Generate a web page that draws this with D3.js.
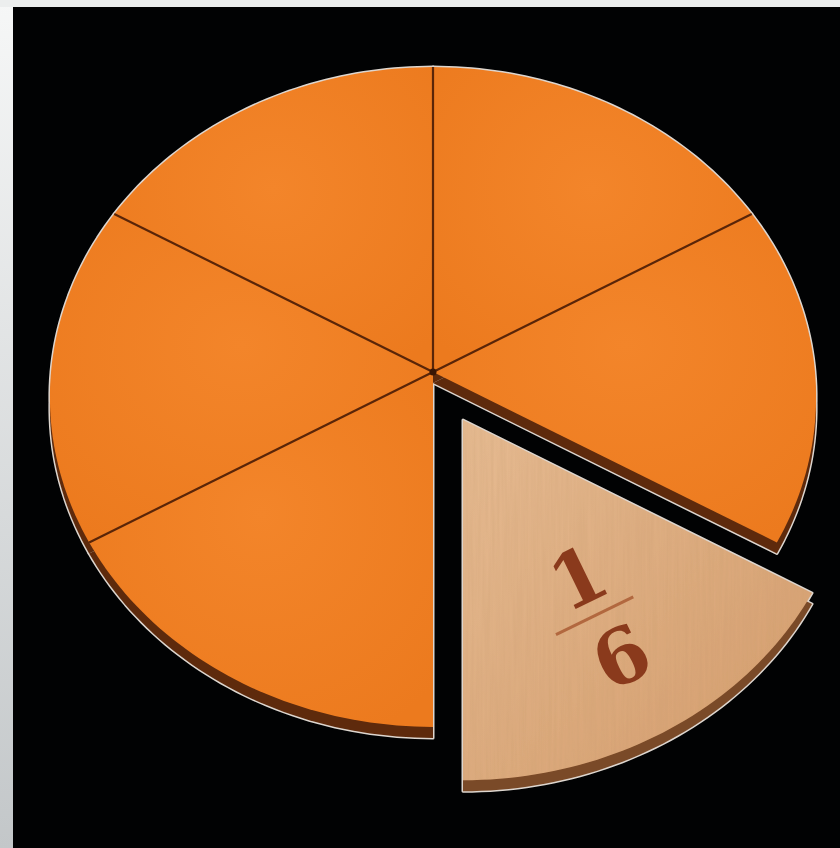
<!DOCTYPE html>
<html>
<head>
<meta charset="utf-8">
<script src="https://cdn.jsdelivr.net/npm/d3@7"></script>
<style>
  html, body { margin: 0; padding: 0; background: #000; }
  svg { display: block; }
</style>
</head>
<body>
<script>
// six equal pieces, one of them pulled out (the wooden 1/6)
const slices = [1, 1, 1, 1, 1, 1];
const pulledOut = 2;
const numerator = "1";
const denominator = "6";

const W = 840, H = 848;

const svg = d3.select("body").append("svg")
    .attr("width", W).attr("height", H);

const defs = svg.append("defs");

// grey frame left and top
const frameGrad = defs.append("linearGradient").attr("id", "frame")
    .attr("x1", 0).attr("y1", 0).attr("x2", 0).attr("y2", 1);
frameGrad.append("stop").attr("offset", 0).attr("stop-color", "#f6f7f7");
frameGrad.append("stop").attr("offset", 1).attr("stop-color", "#c3c7c9");

const orangeGrad = defs.append("radialGradient").attr("id", "orange")
    .attr("cx", "50%").attr("cy", "40%").attr("r", "70%");
orangeGrad.append("stop").attr("offset", 0).attr("stop-color", "#f3852a");
orangeGrad.append("stop").attr("offset", 1).attr("stop-color", "#ec7a1e");

const woodGrad = defs.append("linearGradient").attr("id", "wood")
    .attr("x1", 0).attr("y1", 0).attr("x2", 1).attr("y2", 1);
woodGrad.append("stop").attr("offset", 0).attr("stop-color", "#e6bb92");
woodGrad.append("stop").attr("offset", 1).attr("stop-color", "#d49c6c");

// wood grain: stretched noise, mostly vertical streaks
const grain = defs.append("filter").attr("id", "grain")
    .attr("x", 0).attr("y", 0).attr("width", 1).attr("height", 1);
grain.append("feTurbulence").attr("type", "fractalNoise")
    .attr("baseFrequency", "0.35 0.012").attr("numOctaves", 2).attr("seed", 3)
    .attr("result", "noise");
grain.append("feColorMatrix").attr("in", "noise").attr("type", "matrix")
    .attr("values", "0 0 0 0 0.55  0 0 0 0 0.32  0 0 0 0 0.15  0 0 0 0.35 -0.08")
    .attr("result", "streaks");
grain.append("feComposite").attr("in", "streaks").attr("in2", "SourceGraphic")
    .attr("operator", "in").attr("result", "clipped");
grain.append("feMerge").selectAll("feMergeNode")
    .data(["SourceGraphic", "clipped"]).enter().append("feMergeNode")
    .attr("in", d => d);

svg.append("rect").attr("width", W).attr("height", H).attr("fill", "url(#frame)");
svg.append("rect").attr("x", 0).attr("y", 0).attr("width", W).attr("height", 7).attr("fill", "#eceeee");
svg.append("rect").attr("x", 13).attr("y", 7).attr("width", W - 13).attr("height", H - 7).attr("fill", "#010203");

// pie seen slightly from above: simple perspective of a flat disc
const view = {cx: 433, cy: 372, A: 382, B: 328, k: 0.0758};

function project(a, r, o) {
    const u = r * Math.sin(a), v = -r * Math.cos(a);
    const s = 1 / (1 - view.k * v);
    return [o.x + view.A * u * s * o.scale, o.y + view.B * v * s * o.scale];
}

const line = d3.line();

function slicePath(d, o) {
    const n = 48;
    const pts = [project(0, 0, o)];
    d3.range(n + 1).forEach(function(i) {
        const a = d.startAngle + (d.endAngle - d.startAngle) * i / n;
        pts.push(project(a, 1, o));
    });
    return line(pts) + "Z";
}

const pie = d3.pie().sort(null).startAngle(0).endAngle(2 * Math.PI);
const arcs = pie(slices);

const home = {x: view.cx, y: view.cy, scale: 1};
const moved = {x: view.cx + 30, y: view.cy + 48, scale: 1.015};
function offsetOf(i) { return i === pulledOut ? moved : home; }
const thick = 11;

// light cut-out halo
svg.append("g").selectAll("path").data(arcs).enter().append("path")
    .attr("d", (d, i) => {
        const o = offsetOf(i);
        return slicePath(d, o) + slicePath(d, {x: o.x, y: o.y + thick, scale: o.scale});
    })
    .attr("fill", "none").attr("stroke", "#ddd6cf").attr("stroke-width", 3)
    .attr("stroke-linejoin", "round");

// side (thickness) of each piece
svg.append("g").selectAll("path").data(arcs).enter().append("path")
    .attr("d", (d, i) => {
        const o = offsetOf(i);
        return slicePath(d, {x: o.x, y: o.y + thick, scale: o.scale});
    })
    .attr("fill", (d, i) => i === pulledOut ? "#7a4a28" : "#5e2a0c");

// top faces
svg.append("g").selectAll("path").data(arcs).enter().append("path")
    .attr("d", (d, i) => slicePath(d, offsetOf(i)))
    .attr("fill", (d, i) => i === pulledOut ? "url(#wood)" : "url(#orange)")
    .attr("filter", (d, i) => i === pulledOut ? "url(#grain)" : null);

// cut lines between neighbouring orange pieces
const cuts = arcs.filter((d, i) => i !== pulledOut && (i + arcs.length - 1) % arcs.length !== pulledOut);
svg.append("g").selectAll("line").data(cuts).enter().append("line")
    .attr("x1", project(0, 0, home)[0]).attr("y1", project(0, 0, home)[1])
    .attr("x2", d => project(d.startAngle, 1, home)[0])
    .attr("y2", d => project(d.startAngle, 1, home)[1])
    .attr("stroke", "#5a2508").attr("stroke-width", 2.2);
svg.append("circle")
    .attr("cx", project(0, 0, home)[0]).attr("cy", project(0, 0, home)[1])
    .attr("r", 3.5).attr("fill", "#3a1604");

// engraved fraction on the wooden piece
const w = arcs[pulledOut];
const mid = (w.startAngle + w.endAngle) / 2;
const lp = project(mid, 0.65, moved);
const label = svg.append("g")
    .attr("transform", "translate(" + lp[0] + "," + lp[1] + ") rotate(-26)");
label.append("line").attr("x1", -43).attr("x2", 43).attr("y1", 0).attr("y2", 0)
    .attr("stroke", "#b2683f").attr("stroke-width", 3);
label.selectAll("text").data([[numerator, 2, -41], [denominator, 6, 49]]).enter().append("text")
    .text(d => d[0])
    .attr("x", d => d[1]).attr("y", d => d[2])
    .attr("text-anchor", "middle").attr("dominant-baseline", "central")
    .attr("font-family", "DejaVu Serif").attr("font-weight", "bold")
    .attr("font-size", 76).attr("fill", "#8a3a1c");
</script>
</body>
</html>
